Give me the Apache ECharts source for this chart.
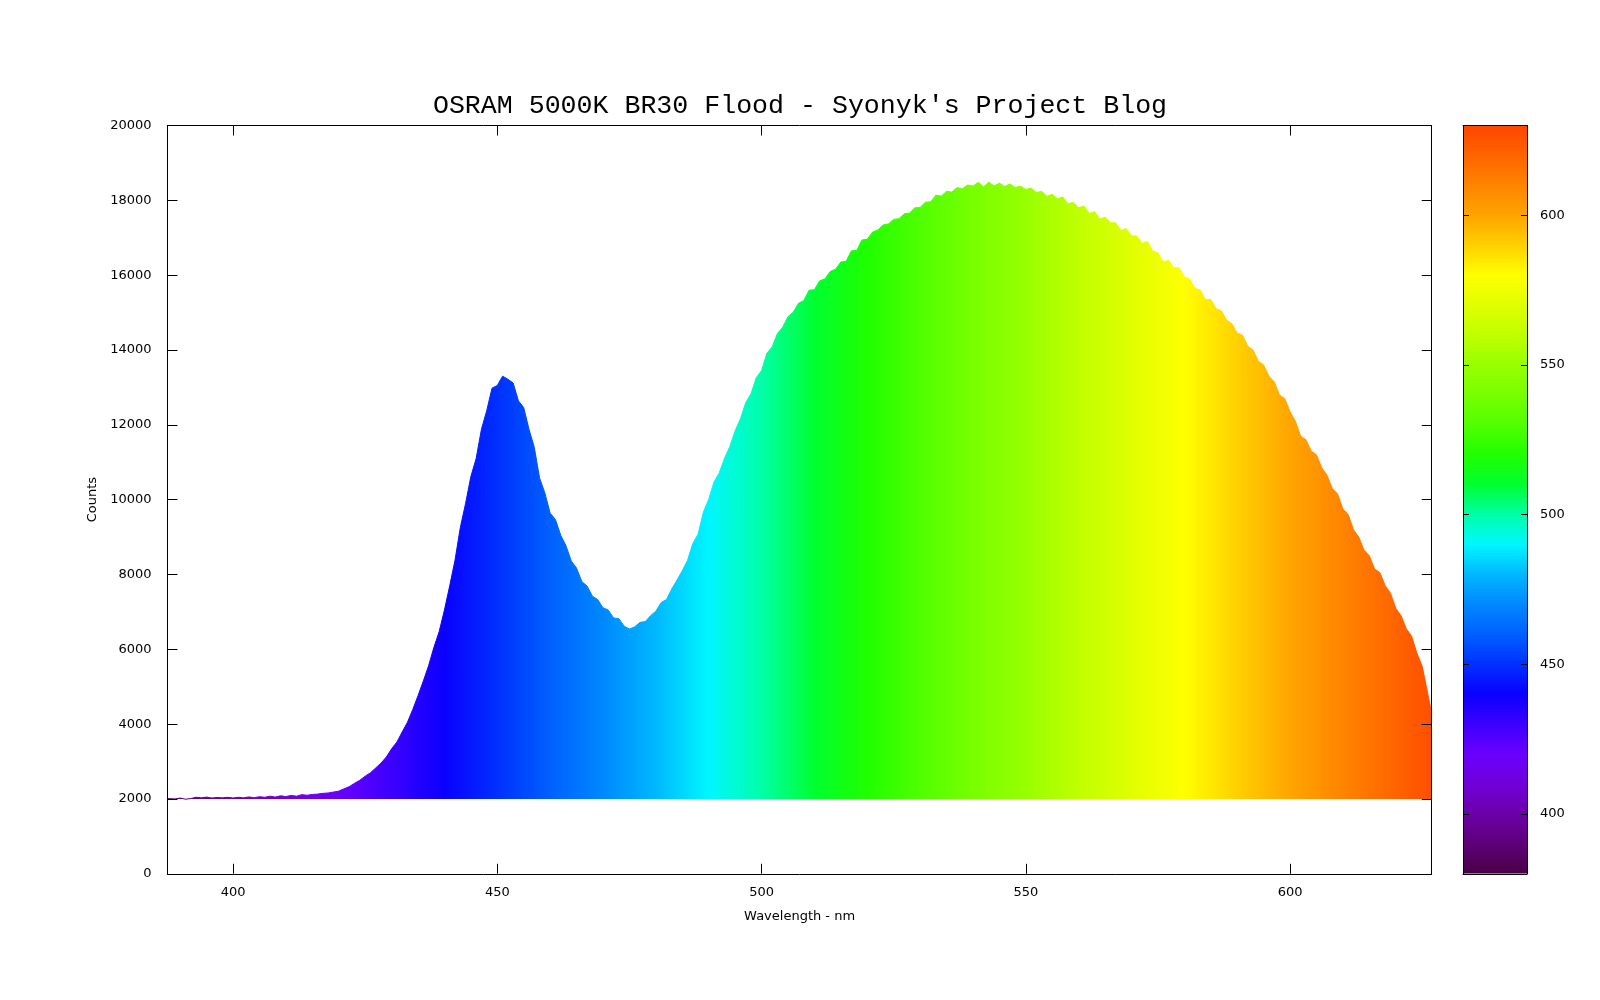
<!DOCTYPE html>
<html>
<head>
<meta charset="utf-8">
<script src="https://cdn.jsdelivr.net/npm/echarts@6/dist/echarts.min.js"></script>
<style>
html,body{margin:0;padding:0;background:#fff;}
#chart{width:1600px;height:1000px;}
</style>
</head>
<body>
<div id="chart"></div>
<script>
const titleText = "OSRAM 5000K BR30 Flood - Syonyk's Project Blog";
const xAxisName = 'Wavelength - nm';
const yAxisName = 'Counts';

const xTicks = [400, 450, 500, 550, 600];
const yTicks = [0, 2000, 4000, 6000, 8000, 10000, 12000, 14000, 16000, 18000, 20000];
const cbTicks = [400, 450, 500, 550, 600];
const baseline = 2000;
const cbRange = [380, 630];

// colour palette for 380..630 nm, evenly spaced every 10 nm
const paletteColors = [
  '#4a0046', '#5e0078', '#6c00a8', '#7000d8', '#6a00ff', '#3c00ff',
  '#0a00ff', '#0030ff', '#0060ff', '#0088ff', '#00b8ff', '#00f6ff',
  '#00ffa8', '#00ff30', '#20ff00', '#50ff00', '#78ff00', '#98ff00',
  '#c0ff00', '#e0ff00', '#ffff00', '#ffd000', '#ffa500', '#ff8400',
  '#ff6400', '#ff4500'
];

const wavelengths = [
  387.6,
  388, 389, 390, 391, 392, 393, 394, 395, 396, 397, 398, 399,
  400, 401, 402, 403, 404, 405, 406, 407, 408, 409, 410, 411, 412, 413, 414, 415, 416, 417, 418, 419,
  420, 421, 422, 423, 424, 425, 426, 427, 428, 429, 430, 431, 432, 433, 434, 435, 436, 437, 438, 439,
  440, 441, 442, 443, 444, 445, 446, 447, 448, 449, 450, 451, 452, 453, 454, 455, 456, 457, 458, 459,
  460, 461, 462, 463, 464, 465, 466, 467, 468, 469, 470, 471, 472, 473, 474, 475, 476, 477, 478, 479,
  480, 481, 482, 483, 484, 485, 486, 487, 488, 489, 490, 491, 492, 493, 494, 495, 496, 497, 498, 499,
  500, 501, 502, 503, 504, 505, 506, 507, 508, 509, 510, 511, 512, 513, 514, 515, 516, 517, 518, 519,
  520, 521, 522, 523, 524, 525, 526, 527, 528, 529, 530, 531, 532, 533, 534, 535, 536, 537, 538, 539,
  540, 541, 542, 543, 544, 545, 546, 547, 548, 549, 550, 551, 552, 553, 554, 555, 556, 557, 558, 559,
  560, 561, 562, 563, 564, 565, 566, 567, 568, 569, 570, 571, 572, 573, 574, 575, 576, 577, 578, 579,
  580, 581, 582, 583, 584, 585, 586, 587, 588, 589, 590, 591, 592, 593, 594, 595, 596, 597, 598, 599,
  600, 601, 602, 603, 604, 605, 606, 607, 608, 609, 610, 611, 612, 613, 614, 615, 616, 617, 618, 619,
  620, 621, 622, 623, 624, 625, 626, 626.8
];

const counts = [
  2005,
  2010, 2000, 2025, 1995, 2010, 2045, 2030, 2050, 2025, 2040, 2030, 2045,
  2025, 2045, 2030, 2055, 2035, 2060, 2045, 2075, 2050, 2085, 2065, 2095, 2075, 2115, 2100, 2120, 2130, 2150, 2160, 2185,
  2210, 2270, 2330, 2420, 2500, 2610, 2700, 2830, 2960, 3120, 3340, 3520, 3790, 4050, 4390, 4760, 5150, 5560, 6050, 6470,
  7050, 7700, 8380, 9250, 9900, 10620, 11100, 11880, 12380, 12980, 13050, 13300, 13220, 13120, 12640, 12460, 11880, 11400, 10580, 10180,
  9640, 9470, 9050, 8770, 8360, 8170, 7810, 7690, 7420, 7330, 7110, 7050, 6840, 6820, 6620, 6540, 6600, 6720, 6740, 6900,
  7020, 7250, 7330, 7610, 7850, 8100, 8380, 8830, 9080, 9670, 10010, 10470, 10720, 11110, 11420, 11840, 12160, 12590, 12830, 13260,
  13450, 13910, 14080, 14440, 14610, 14890, 15010, 15250, 15320, 15600, 15610, 15850, 15900, 16100, 16160, 16350, 16370, 16650, 16660, 16940,
  16960, 17150, 17210, 17340, 17370, 17490, 17510, 17640, 17660, 17800, 17810, 17950, 17960, 18140, 18110, 18240, 18220, 18340, 18310, 18410,
  18380, 18480, 18360, 18490, 18380, 18460, 18370, 18440, 18340, 18380, 18290, 18330, 18210, 18240, 18110, 18160, 18040, 18090, 17910, 17950,
  17800, 17850, 17650, 17700, 17500, 17550, 17400, 17400, 17200, 17250, 17050, 17050, 16850, 16900, 16650, 16600, 16350, 16400, 16200, 16200,
  15950, 15900, 15650, 15600, 15350, 15350, 15100, 15050, 14800, 14700, 14450, 14400, 14100, 14000, 13700, 13600, 13300, 13150, 12800, 12700,
  12350, 12100, 11700, 11600, 11300, 11200, 10850, 10650, 10300, 10150, 9750, 9600, 9200, 9000, 8650, 8500, 8150, 8050, 7700, 7500,
  7100, 6900, 6550, 6350, 5900, 5550, 4850, 4300
];

const spectrum = wavelengths.map((w, i) => [w, counts[i]]);

const cbStops = paletteColors.map((c, i) => ({ offset: i / (paletteColors.length - 1), color: c }));

const chart = echarts.init(document.getElementById('chart'), null, { renderer: 'canvas' });

const labelFont = { fontFamily: 'DejaVu Sans', fontSize: 13, color: '#000' };
const lineStyleAxis = { color: '#000', width: 1 };
const plainNumber = v => String(v);

const option = {
  backgroundColor: '#fff',
  animation: false,
  title: {
    text: titleText,
    left: 'center',
    top: 87,
    textStyle: { fontFamily: 'Liberation Mono', fontSize: 26.6, fontWeight: 'normal', color: '#000' }
  },
  grid: [
    { left: 167.5, right: 168.3, top: 125.5, bottom: 126.2, show: false },
    { left: 1463, width: 64, top: 125.5, bottom: 126.2, show: false }
  ],
  visualMap: [{
    type: 'continuous',
    show: false,
    seriesIndex: 0,
    dimension: 0,
    min: cbRange[0],
    max: cbRange[1],
    inRange: { color: paletteColors }
  }],
  xAxis: [
    {
      gridIndex: 0, type: 'value', position: 'bottom',
      min: 387.6, max: 626.8,
      name: xAxisName, nameLocation: 'middle', nameGap: 36,
      nameTextStyle: labelFont,
      axisLine: { show: true, onZero: false, lineStyle: lineStyleAxis },
      axisTick: { show: true, inside: true, length: 10, customValues: xTicks, lineStyle: lineStyleAxis },
      axisLabel: { show: true, customValues: xTicks, margin: 12, formatter: plainNumber, ...labelFont },
      splitLine: { show: false },
      z: 10
    },
    {
      gridIndex: 0, type: 'value', position: 'top',
      min: 387.6, max: 626.8,
      axisLine: { show: true, onZero: false, lineStyle: lineStyleAxis },
      axisTick: { show: true, inside: true, length: 10, customValues: xTicks, lineStyle: lineStyleAxis },
      axisLabel: { show: false },
      splitLine: { show: false },
      z: 10
    },
    {
      gridIndex: 1, type: 'value', position: 'bottom', min: 0, max: 1,
      axisLine: { show: true, onZero: false, lineStyle: lineStyleAxis },
      axisTick: { show: false }, axisLabel: { show: false }, splitLine: { show: false }, z: 10
    },
    {
      gridIndex: 1, type: 'value', position: 'top', min: 0, max: 1,
      axisLine: { show: true, onZero: false, lineStyle: lineStyleAxis },
      axisTick: { show: false }, axisLabel: { show: false }, splitLine: { show: false }, z: 10
    }
  ],
  yAxis: [
    {
      gridIndex: 0, type: 'value', position: 'left',
      min: yTicks[0], max: yTicks[yTicks.length - 1], interval: yTicks[1] - yTicks[0],
      name: yAxisName, nameLocation: 'middle', nameGap: 50,
      nameTextStyle: labelFont,
      axisLine: { show: true, onZero: false, lineStyle: lineStyleAxis },
      axisTick: { show: true, inside: true, length: 10, lineStyle: lineStyleAxis },
      axisLabel: { show: true, margin: 16, formatter: plainNumber, ...labelFont },
      splitLine: { show: false },
      z: 10
    },
    {
      gridIndex: 0, type: 'value', position: 'right',
      min: yTicks[0], max: yTicks[yTicks.length - 1], interval: yTicks[1] - yTicks[0],
      axisLine: { show: true, onZero: false, lineStyle: lineStyleAxis },
      axisTick: { show: true, inside: true, length: 10, lineStyle: lineStyleAxis },
      axisLabel: { show: false },
      splitLine: { show: false },
      z: 10
    },
    {
      gridIndex: 1, type: 'value', position: 'left',
      min: cbRange[0], max: cbRange[1],
      axisLine: { show: true, onZero: false, lineStyle: lineStyleAxis },
      axisTick: { show: true, inside: true, length: 6, customValues: cbTicks, lineStyle: lineStyleAxis },
      axisLabel: { show: false },
      splitLine: { show: false },
      z: 10
    },
    {
      gridIndex: 1, type: 'value', position: 'right',
      min: cbRange[0], max: cbRange[1],
      axisLine: { show: true, onZero: false, lineStyle: lineStyleAxis },
      axisTick: { show: true, inside: true, length: 6, customValues: cbTicks, lineStyle: lineStyleAxis },
      axisLabel: { show: true, customValues: cbTicks, margin: 13, formatter: plainNumber, ...labelFont },
      splitLine: { show: false },
      z: 10
    }
  ],
  series: [
    {
      type: 'line',
      xAxisIndex: 0, yAxisIndex: 0,
      data: spectrum,
      showSymbol: false,
      symbol: 'none',
      lineStyle: { width: 1 },
      areaStyle: { origin: baseline, opacity: 1 },
      clip: true,
      z: 2
    },
    {
      type: 'custom',
      xAxisIndex: 2, yAxisIndex: 2,
      data: [[0, cbRange[0], cbRange[1]]],
      clip: true,
      renderItem: function (params, api) {
        const p0 = api.coord([0, api.value(1)]);
        const p1 = api.coord([1, api.value(2)]);
        return {
          type: 'rect',
          shape: { x: p0[0], y: p1[1], width: p1[0] - p0[0], height: p0[1] - p1[1] },
          style: { fill: new echarts.graphic.LinearGradient(0, 1, 0, 0, cbStops) }
        };
      },
      z: 2
    }
  ]
};

chart.setOption(option);
</script>
</body>
</html>
